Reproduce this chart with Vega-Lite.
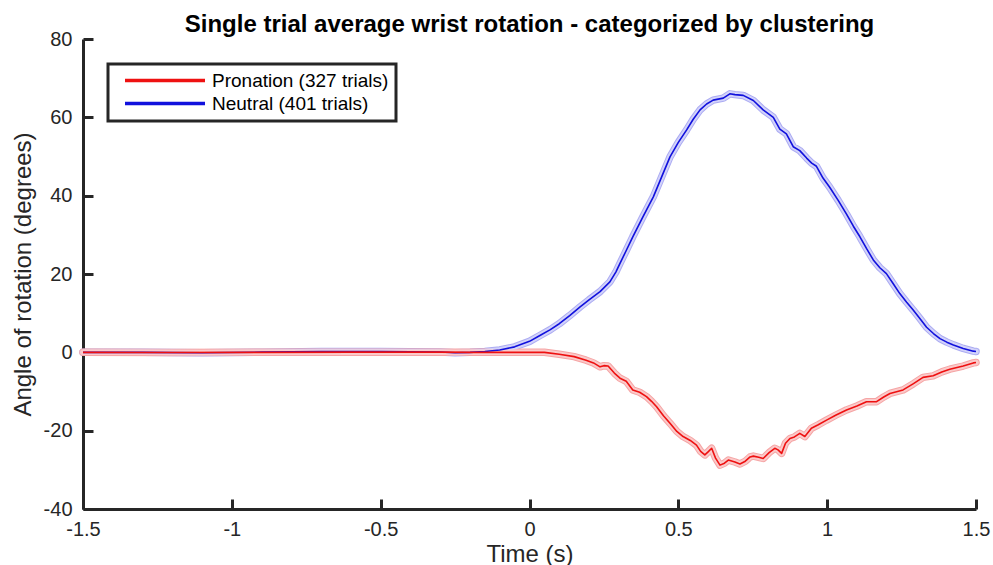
{
  "$schema": "https://vega.github.io/schema/vega-lite/v6.json",
  "autosize": {"type": "none"},
  "padding": {"left": 83, "top": 39, "right": 17, "bottom": 56},
  "width": 893,
  "height": 470,
  "background": "white",
  "config": {
    "view": {"stroke": null},
    "font": "Liberation Sans",
    "axis": {"grid": false, "domainColor": "#262626", "domainWidth": 3, "tickColor": "#262626", "tickWidth": 3, "tickSize": -10, "labelColor": "#262626", "labelFont": "Liberation Sans", "labelFontSize": 20, "titleFont": "Liberation Sans", "titleFontSize": 24, "titleFontWeight": "normal", "titleColor": "#262626", "labelExpr": "'' + datum.value"}
  },
  "title": {"text": "Single trial average wrist rotation - categorized by clustering", "font": "Liberation Sans", "fontSize": 24, "fontWeight": "bold", "color": "black", "anchor": "middle", "offset": -8},
  "data": {"values": [
    {"s": "Neutral (401 trials)", "t": -1.5, "v": 0},
    {"s": "Neutral (401 trials)", "t": -1.3, "v": 0.0},
    {"s": "Neutral (401 trials)", "t": -1.1, "v": -0.1},
    {"s": "Neutral (401 trials)", "t": -0.9, "v": 0.05},
    {"s": "Neutral (401 trials)", "t": -0.7, "v": 0.2},
    {"s": "Neutral (401 trials)", "t": -0.5, "v": 0.2},
    {"s": "Neutral (401 trials)", "t": -0.4, "v": 0.15},
    {"s": "Neutral (401 trials)", "t": -0.3, "v": 0.1},
    {"s": "Neutral (401 trials)", "t": -0.25, "v": -0.1},
    {"s": "Neutral (401 trials)", "t": -0.2, "v": 0.0},
    {"s": "Neutral (401 trials)", "t": -0.15, "v": 0.2},
    {"s": "Neutral (401 trials)", "t": -0.1, "v": 0.6},
    {"s": "Neutral (401 trials)", "t": -0.05, "v": 1.4},
    {"s": "Neutral (401 trials)", "t": 0, "v": 2.8},
    {"s": "Neutral (401 trials)", "t": 0.035, "v": 4.3},
    {"s": "Neutral (401 trials)", "t": 0.07, "v": 5.8},
    {"s": "Neutral (401 trials)", "t": 0.1, "v": 7.3},
    {"s": "Neutral (401 trials)", "t": 0.135, "v": 9.4},
    {"s": "Neutral (401 trials)", "t": 0.17, "v": 11.6},
    {"s": "Neutral (401 trials)", "t": 0.2, "v": 13.4},
    {"s": "Neutral (401 trials)", "t": 0.237, "v": 15.5},
    {"s": "Neutral (401 trials)", "t": 0.27, "v": 18},
    {"s": "Neutral (401 trials)", "t": 0.29, "v": 20.5},
    {"s": "Neutral (401 trials)", "t": 0.304, "v": 22.7},
    {"s": "Neutral (401 trials)", "t": 0.325, "v": 26},
    {"s": "Neutral (401 trials)", "t": 0.347, "v": 29.5},
    {"s": "Neutral (401 trials)", "t": 0.381, "v": 34.6},
    {"s": "Neutral (401 trials)", "t": 0.416, "v": 39.7},
    {"s": "Neutral (401 trials)", "t": 0.445, "v": 45},
    {"s": "Neutral (401 trials)", "t": 0.472, "v": 49.9},
    {"s": "Neutral (401 trials)", "t": 0.5, "v": 53.6},
    {"s": "Neutral (401 trials)", "t": 0.528, "v": 56.8},
    {"s": "Neutral (401 trials)", "t": 0.55, "v": 59.5},
    {"s": "Neutral (401 trials)", "t": 0.573, "v": 61.9},
    {"s": "Neutral (401 trials)", "t": 0.595, "v": 63.4},
    {"s": "Neutral (401 trials)", "t": 0.617, "v": 64.4},
    {"s": "Neutral (401 trials)", "t": 0.651, "v": 64.9},
    {"s": "Neutral (401 trials)", "t": 0.673, "v": 66.0},
    {"s": "Neutral (401 trials)", "t": 0.69, "v": 65.8},
    {"s": "Neutral (401 trials)", "t": 0.718, "v": 65.6},
    {"s": "Neutral (401 trials)", "t": 0.752, "v": 64.3},
    {"s": "Neutral (401 trials)", "t": 0.785, "v": 61.9},
    {"s": "Neutral (401 trials)", "t": 0.819, "v": 60.0},
    {"s": "Neutral (401 trials)", "t": 0.841, "v": 57.0},
    {"s": "Neutral (401 trials)", "t": 0.863, "v": 55.8},
    {"s": "Neutral (401 trials)", "t": 0.886, "v": 52.5},
    {"s": "Neutral (401 trials)", "t": 0.908, "v": 51.5},
    {"s": "Neutral (401 trials)", "t": 0.931, "v": 49.6},
    {"s": "Neutral (401 trials)", "t": 0.948, "v": 48.3},
    {"s": "Neutral (401 trials)", "t": 0.964, "v": 47.5},
    {"s": "Neutral (401 trials)", "t": 0.986, "v": 44.5},
    {"s": "Neutral (401 trials)", "t": 1.009, "v": 42.1},
    {"s": "Neutral (401 trials)", "t": 1.037, "v": 38.8},
    {"s": "Neutral (401 trials)", "t": 1.065, "v": 35.3},
    {"s": "Neutral (401 trials)", "t": 1.088, "v": 32.2},
    {"s": "Neutral (401 trials)", "t": 1.11, "v": 29.5},
    {"s": "Neutral (401 trials)", "t": 1.133, "v": 26.4},
    {"s": "Neutral (401 trials)", "t": 1.155, "v": 23.6},
    {"s": "Neutral (401 trials)", "t": 1.177, "v": 21.6},
    {"s": "Neutral (401 trials)", "t": 1.199, "v": 20.1},
    {"s": "Neutral (401 trials)", "t": 1.222, "v": 17.5},
    {"s": "Neutral (401 trials)", "t": 1.244, "v": 15.0},
    {"s": "Neutral (401 trials)", "t": 1.267, "v": 12.8},
    {"s": "Neutral (401 trials)", "t": 1.289, "v": 10.8},
    {"s": "Neutral (401 trials)", "t": 1.312, "v": 8.6},
    {"s": "Neutral (401 trials)", "t": 1.334, "v": 6.4},
    {"s": "Neutral (401 trials)", "t": 1.357, "v": 4.8},
    {"s": "Neutral (401 trials)", "t": 1.379, "v": 3.5},
    {"s": "Neutral (401 trials)", "t": 1.402, "v": 2.6},
    {"s": "Neutral (401 trials)", "t": 1.424, "v": 1.9},
    {"s": "Neutral (401 trials)", "t": 1.457, "v": 1.0},
    {"s": "Neutral (401 trials)", "t": 1.491, "v": 0.3},
    {"s": "Neutral (401 trials)", "t": 1.5, "v": 0.2},
    {"s": "Pronation (327 trials)", "t": -1.5, "v": 0},
    {"s": "Pronation (327 trials)", "t": -1.2, "v": -0.05},
    {"s": "Pronation (327 trials)", "t": -0.9, "v": 0},
    {"s": "Pronation (327 trials)", "t": -0.6, "v": 0.05},
    {"s": "Pronation (327 trials)", "t": -0.3, "v": 0.05},
    {"s": "Pronation (327 trials)", "t": -0.2, "v": 0},
    {"s": "Pronation (327 trials)", "t": -0.1, "v": 0},
    {"s": "Pronation (327 trials)", "t": 0, "v": 0},
    {"s": "Pronation (327 trials)", "t": 0.05, "v": 0},
    {"s": "Pronation (327 trials)", "t": 0.1, "v": -0.5},
    {"s": "Pronation (327 trials)", "t": 0.15, "v": -1.1},
    {"s": "Pronation (327 trials)", "t": 0.19, "v": -2.0},
    {"s": "Pronation (327 trials)", "t": 0.215, "v": -2.7},
    {"s": "Pronation (327 trials)", "t": 0.237, "v": -3.7},
    {"s": "Pronation (327 trials)", "t": 0.25, "v": -3.4},
    {"s": "Pronation (327 trials)", "t": 0.264, "v": -3.5},
    {"s": "Pronation (327 trials)", "t": 0.285, "v": -5.3},
    {"s": "Pronation (327 trials)", "t": 0.304, "v": -6.6},
    {"s": "Pronation (327 trials)", "t": 0.325, "v": -7.4},
    {"s": "Pronation (327 trials)", "t": 0.347, "v": -9.6},
    {"s": "Pronation (327 trials)", "t": 0.37, "v": -10.2},
    {"s": "Pronation (327 trials)", "t": 0.393, "v": -11.3},
    {"s": "Pronation (327 trials)", "t": 0.41, "v": -12.5},
    {"s": "Pronation (327 trials)", "t": 0.427, "v": -13.9},
    {"s": "Pronation (327 trials)", "t": 0.45, "v": -16.2},
    {"s": "Pronation (327 trials)", "t": 0.472, "v": -18.1},
    {"s": "Pronation (327 trials)", "t": 0.495, "v": -20.2},
    {"s": "Pronation (327 trials)", "t": 0.516, "v": -21.5},
    {"s": "Pronation (327 trials)", "t": 0.54, "v": -22.5},
    {"s": "Pronation (327 trials)", "t": 0.561, "v": -23.7},
    {"s": "Pronation (327 trials)", "t": 0.575, "v": -25.3},
    {"s": "Pronation (327 trials)", "t": 0.589, "v": -26.2},
    {"s": "Pronation (327 trials)", "t": 0.6, "v": -25.4},
    {"s": "Pronation (327 trials)", "t": 0.612, "v": -24.5},
    {"s": "Pronation (327 trials)", "t": 0.625, "v": -27},
    {"s": "Pronation (327 trials)", "t": 0.64, "v": -28.8},
    {"s": "Pronation (327 trials)", "t": 0.655, "v": -28.3},
    {"s": "Pronation (327 trials)", "t": 0.668, "v": -27.5},
    {"s": "Pronation (327 trials)", "t": 0.69, "v": -28.0},
    {"s": "Pronation (327 trials)", "t": 0.707, "v": -28.5},
    {"s": "Pronation (327 trials)", "t": 0.725, "v": -27.8},
    {"s": "Pronation (327 trials)", "t": 0.741, "v": -26.7},
    {"s": "Pronation (327 trials)", "t": 0.752, "v": -26.5},
    {"s": "Pronation (327 trials)", "t": 0.77, "v": -26.8},
    {"s": "Pronation (327 trials)", "t": 0.785, "v": -27.1},
    {"s": "Pronation (327 trials)", "t": 0.805, "v": -25.6},
    {"s": "Pronation (327 trials)", "t": 0.824, "v": -24.5},
    {"s": "Pronation (327 trials)", "t": 0.835, "v": -24.9},
    {"s": "Pronation (327 trials)", "t": 0.847, "v": -25.8},
    {"s": "Pronation (327 trials)", "t": 0.86, "v": -23.2},
    {"s": "Pronation (327 trials)", "t": 0.875, "v": -22.0},
    {"s": "Pronation (327 trials)", "t": 0.89, "v": -21.6},
    {"s": "Pronation (327 trials)", "t": 0.908, "v": -20.7},
    {"s": "Pronation (327 trials)", "t": 0.925, "v": -21.5},
    {"s": "Pronation (327 trials)", "t": 0.947, "v": -19.4},
    {"s": "Pronation (327 trials)", "t": 0.97, "v": -18.5},
    {"s": "Pronation (327 trials)", "t": 0.998, "v": -17.3},
    {"s": "Pronation (327 trials)", "t": 1.03, "v": -16.0},
    {"s": "Pronation (327 trials)", "t": 1.065, "v": -14.7},
    {"s": "Pronation (327 trials)", "t": 1.1, "v": -13.7},
    {"s": "Pronation (327 trials)", "t": 1.132, "v": -12.6},
    {"s": "Pronation (327 trials)", "t": 1.166, "v": -12.6},
    {"s": "Pronation (327 trials)", "t": 1.19, "v": -11.4},
    {"s": "Pronation (327 trials)", "t": 1.211, "v": -10.5},
    {"s": "Pronation (327 trials)", "t": 1.255, "v": -9.6},
    {"s": "Pronation (327 trials)", "t": 1.29, "v": -8.0},
    {"s": "Pronation (327 trials)", "t": 1.322, "v": -6.4},
    {"s": "Pronation (327 trials)", "t": 1.356, "v": -6.0},
    {"s": "Pronation (327 trials)", "t": 1.385, "v": -5.0},
    {"s": "Pronation (327 trials)", "t": 1.412, "v": -4.3},
    {"s": "Pronation (327 trials)", "t": 1.457, "v": -3.5},
    {"s": "Pronation (327 trials)", "t": 1.491, "v": -2.7},
    {"s": "Pronation (327 trials)", "t": 1.5, "v": -2.6}
  ]},
  "encoding": {
    "x": {"field": "t", "type": "quantitative", "scale": {"domain": [-1.5, 1.5], "nice": false, "zero": false}, "axis": {"title": "Time (s)", "values": [-1.5, -1, -0.5, 0, 0.5, 1, 1.5], "labelPadding": 20, "titlePadding": 3, "labelFlush": false, "labelOverlap": false}},
    "y": {"field": "v", "type": "quantitative", "scale": {"domain": [-40, 80], "nice": false, "zero": false}, "axis": {"title": "Angle of rotation (degrees)", "values": [-40, -20, 0, 20, 40, 60, 80], "labelPadding": 21, "titlePadding": 8, "labelFlush": false, "labelOverlap": false}}
  },
  "layer": [
    {"mark": {"type": "line", "strokeWidth": 7.5, "strokeJoin": "round", "strokeCap": "round"},
     "encoding": {"color": {"field": "s", "type": "nominal", "legend": null, "scale": {"domain": ["Pronation (327 trials)", "Neutral (401 trials)"], "range": ["#f5a5a5", "#acacf2"]}}}},
    {"mark": {"type": "line", "strokeWidth": 5.5, "strokeJoin": "round", "strokeCap": "round"},
     "encoding": {"color": {"field": "s", "type": "nominal", "legend": null, "scale": {"domain": ["Pronation (327 trials)", "Neutral (401 trials)"], "range": ["#fbcaca", "#d3d3fa"]}}}},
    {"mark": {"type": "line", "strokeWidth": 1.6, "strokeJoin": "round"},
     "encoding": {"color": {"field": "s", "type": "nominal", "scale": {"domain": ["Pronation (327 trials)", "Neutral (401 trials)"], "range": ["#ee1111", "#1111dd"]},
       "legend": {"title": null, "orient": "none", "legendX": 25, "legendY": 25, "symbolType": "stroke", "symbolSize": 6400, "symbolStrokeWidth": 3.5, "clipHeight": 19, "labelFont": "Liberation Sans", "labelFontSize": 19, "labelColor": "black", "labelOffset": 5, "labelLimit": 400, "rowPadding": 3, "padding": 7, "symbolOffset": 8, "strokeColor": "#262626", "fillColor": "white",
         "encode": {"legend": {"update": {"strokeWidth": {"value": 3}}}}}}}}
  ],
  "resolve": {"scale": {"color": "independent"}}
}
